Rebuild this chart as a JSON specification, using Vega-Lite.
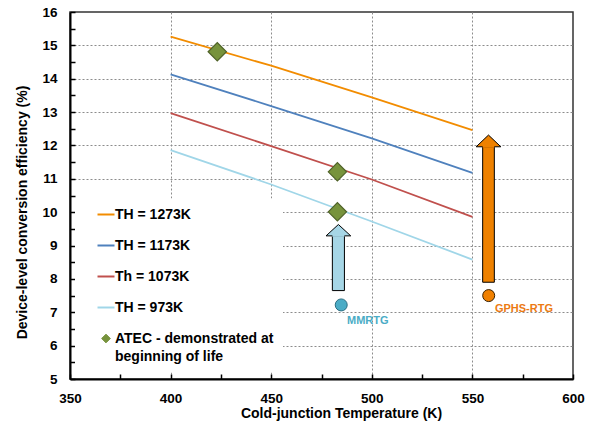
{
  "$schema": "https://vega.github.io/schema/vega-lite/v6.json",
  "width": 503,
  "height": 367,
  "padding": {"left": 15, "top": 5, "right": 3, "bottom": 4},
  "background": "white",
  "config": {
    "view": {"stroke": "#333333", "strokeWidth": 1.5},
    "font": "Liberation Sans",
    "axis": {
      "labelFont": "Liberation Sans",
      "labelFontWeight": "bold",
      "labelFontSize": 13.5,
      "labelColor": "black",
      "labelOverlap": false,
      "labelFlush": false,
      "titleFont": "Liberation Sans",
      "titleFontWeight": "bold",
      "titleFontSize": 14,
      "titleColor": "black",
      "domainColor": "black",
      "domainWidth": 2,
      "ticks": true,
      "tickColor": "black",
      "tickOpacity": 1,
      "tickWidth": 1.5,
      "tickSize": -5,
      "gridColor": "#8c8c8c",
      "gridDash": [2, 2],
      "gridWidth": 1
    }
  },
  "datasets": {
    "curves": [
      {"series": "TH = 1273K", "T": 400, "eff": 15.26},
      {"series": "TH = 1273K", "T": 450, "eff": 14.39},
      {"series": "TH = 1273K", "T": 500, "eff": 13.44},
      {"series": "TH = 1273K", "T": 550, "eff": 12.46},
      {"series": "TH = 1173K", "T": 400, "eff": 14.13},
      {"series": "TH = 1173K", "T": 450, "eff": 13.18},
      {"series": "TH = 1173K", "T": 500, "eff": 12.21},
      {"series": "TH = 1173K", "T": 550, "eff": 11.18},
      {"series": "Th = 1073K", "T": 400, "eff": 12.97},
      {"series": "Th = 1073K", "T": 450, "eff": 11.98},
      {"series": "Th = 1073K", "T": 500, "eff": 10.98},
      {"series": "Th = 1073K", "T": 550, "eff": 9.86},
      {"series": "TH = 973K", "T": 400, "eff": 11.86},
      {"series": "TH = 973K", "T": 450, "eff": 10.83},
      {"series": "TH = 973K", "T": 500, "eff": 9.72},
      {"series": "TH = 973K", "T": 550, "eff": 8.58}
    ],
    "atec": [
      {"series": "ATEC - demonstrated at beginning of life", "T": 423.2, "eff": 14.81},
      {"series": "ATEC - demonstrated at beginning of life", "T": 482.9, "eff": 11.21},
      {"series": "ATEC - demonstrated at beginning of life", "T": 482.9, "eff": 10.01}
    ],
    "arrows": [
      {"name": "MMRTG", "xl": 480.4, "xr": 486.4, "xc": 483.4, "ybase": 7.65, "yhead": 9.29},
      {"name": "GPHS-RTG", "xl": 555.1, "xr": 560.9, "xc": 558.0, "ybase": 7.9, "yhead": 11.96}
    ],
    "rtg": [
      {"name": "MMRTG", "T": 484.8, "eff": 7.22, "lx": 498.0, "ly": 6.73},
      {"name": "GPHS-RTG", "T": 558.1, "eff": 7.5, "lx": 575.6, "ly": 7.09}
    ]
  },
  "layer": [
    {
      "data": {"name": "curves"},
      "mark": {"type": "line", "strokeWidth": 1.8},
      "encoding": {
        "x": {
          "field": "T",
          "type": "quantitative",
          "scale": {"domain": [350, 600], "nice": false, "zero": false},
          "axis": {
            "title": "Cold-junction Temperature (K)",
            "values": [350, 375, 400, 425, 450, 475, 500, 525, 550, 575, 600],
            "tickCount": 40,
            "format": ".0f",
            "labelExpr": "datum.value % 50 === 0 ? datum.label : ''",
            "labelOverlap": false,
            "labelPadding": 17,
            "ticks": true,
            "tickSize": -5,
            "gridOpacity": {"condition": {"test": "datum.value % 50 !== 0 || datum.value === 350 || datum.value === 600", "value": 0}, "value": 1},
            "titleX": 271,
            "titleY": 34,
            "titleBaseline": "middle"
          }
        },
        "y": {
          "field": "eff",
          "type": "quantitative",
          "scale": {"domain": [5, 16], "nice": false, "zero": false},
          "axis": {
            "title": "Device-level conversion efficiency (%)",
            "values": [5, 5.5, 6, 6.5, 7, 7.5, 8, 8.5, 9, 9.5, 10, 10.5, 11, 11.5, 12, 12.5, 13, 13.5, 14, 14.5, 15, 15.5, 16],
            "tickCount": 40,
            "format": ".0f",
            "labelExpr": "datum.value % 1 === 0 ? datum.label : ''",
            "labelOverlap": false,
            "labelPadding": 18,
            "ticks": true,
            "tickSize": -5,
            "gridOpacity": {"condition": {"test": "datum.value % 1 !== 0 || datum.value === 5 || datum.value === 16", "value": 0}, "value": 1},
            "titleX": -48,
            "titleY": 200,
            "titleAngle": -90,
            "titleAlign": "center",
            "titleBaseline": "middle"
          }
        },
        "color": {
          "field": "series",
          "type": "nominal",
          "scale": {
            "domain": ["TH = 1273K", "TH = 1173K", "Th = 1073K", "TH = 973K", "ATEC - demonstrated at beginning of life"],
            "range": ["#F28C00", "#4F81BD", "#C0504D", "#A0D6E8", "#77933C"]
          },
          "legend": {
            "orient": "none",
            "legendX": 5,
            "legendY": 186.5,
            "title": null,
            "fillColor": "white",
            "padding": 9,
            "symbolOffset": 15,
            "symbolType": "stroke",
            "symbolSize": 289,
            "symbolStrokeWidth": 2,
            "labelFont": "Liberation Sans",
            "labelFontSize": 14,
            "labelFontWeight": "bold",
            "labelColor": "black",
            "labelOffset": 2,
            "labelLimit": 400,
            "rowPadding": 17,
            "labelExpr": "datum.label === 'ATEC - demonstrated at beginning of life' ? ['ATEC - demonstrated at', 'beginning of life'] : datum.label",
            "encode": {
              "symbols": {
                "update": {
                  "shape": {"signal": "datum.value === 'ATEC - demonstrated at beginning of life' ? 'diamond' : 'stroke'"},
                  "size": {"signal": "datum.value === 'ATEC - demonstrated at beginning of life' ? 76 : 289"},
                  "fill": {"signal": "datum.value === 'ATEC - demonstrated at beginning of life' ? '#77933C' : 'transparent'"},
                  "stroke": {"signal": "datum.value === 'ATEC - demonstrated at beginning of life' ? '#4F6228' : scale('color', datum.value)"},
                  "strokeWidth": {"signal": "datum.value === 'ATEC - demonstrated at beginning of life' ? 1 : 2"}
                }
              },
              "labels": {
                "update": {
                  "lineHeight": {"value": 18}
                }
              }
            }
          }
        }
      }
    },
    {
      "data": {"name": "atec"},
      "mark": {"type": "point", "shape": "diamond", "filled": true, "size": 335, "stroke": "#4F6228", "strokeWidth": 1.2, "opacity": 1},
      "encoding": {
        "x": {"field": "T", "type": "quantitative"},
        "y": {"field": "eff", "type": "quantitative"},
        "color": {"field": "series", "type": "nominal"}
      }
    },
    {
      "data": {"name": "arrows"},
      "transform": [{"filter": "datum.name === 'MMRTG'"}],
      "layer": [
        {
          "mark": {"type": "rect", "fill": "#A6D6E6", "stroke": "black", "strokeWidth": 1},
          "encoding": {
            "x": {"field": "xl", "type": "quantitative"},
            "x2": {"field": "xr"},
            "y": {"field": "ybase", "type": "quantitative"},
            "y2": {"field": "yhead"}
          }
        },
        {
          "mark": {"type": "point", "shape": "M-1,0L0,-0.92L1,0Z", "size": 610, "filled": true, "fill": "#A6D6E6", "stroke": "black", "strokeWidth": 1, "opacity": 1},
          "encoding": {
            "x": {"field": "xc", "type": "quantitative"},
            "y": {"field": "yhead", "type": "quantitative"}
          }
        },
        {
          "mark": {"type": "rule", "stroke": "#A6D6E6", "strokeWidth": 2},
          "encoding": {
            "x": {"field": "xl", "type": "quantitative"},
            "x2": {"field": "xr"},
            "y": {"field": "yhead", "type": "quantitative"}
          }
        }
      ]
    },
    {
      "data": {"name": "arrows"},
      "transform": [{"filter": "datum.name === 'GPHS-RTG'"}],
      "layer": [
        {
          "mark": {"type": "rect", "fill": "#EE8100", "stroke": "black", "strokeWidth": 1},
          "encoding": {
            "x": {"field": "xl", "type": "quantitative"},
            "x2": {"field": "xr"},
            "y": {"field": "ybase", "type": "quantitative"},
            "y2": {"field": "yhead"}
          }
        },
        {
          "mark": {"type": "point", "shape": "M-1,0L0,-0.95L1,0Z", "size": 610, "filled": true, "fill": "#EE8100", "stroke": "black", "strokeWidth": 1, "opacity": 1},
          "encoding": {
            "x": {"field": "xc", "type": "quantitative"},
            "y": {"field": "yhead", "type": "quantitative"}
          }
        },
        {
          "mark": {"type": "rule", "stroke": "#EE8100", "strokeWidth": 2},
          "encoding": {
            "x": {"field": "xl", "type": "quantitative"},
            "x2": {"field": "xr"},
            "y": {"field": "yhead", "type": "quantitative"}
          }
        }
      ]
    },
    {
      "data": {"name": "rtg"},
      "transform": [{"filter": "datum.name === 'MMRTG'"}],
      "layer": [
        {
          "mark": {"type": "point", "shape": "circle", "filled": true, "size": 144, "fill": "#4BACC6", "stroke": "#2C6E82", "strokeWidth": 1, "opacity": 1},
          "encoding": {
            "x": {"field": "T", "type": "quantitative"},
            "y": {"field": "eff", "type": "quantitative"}
          }
        },
        {
          "mark": {"type": "text", "fontSize": 11, "fontWeight": "bold", "font": "Liberation Sans", "fill": "#4BACC6", "align": "center", "baseline": "middle"},
          "encoding": {
            "x": {"field": "lx", "type": "quantitative"},
            "y": {"field": "ly", "type": "quantitative"},
            "text": {"field": "name"}
          }
        }
      ]
    },
    {
      "data": {"name": "rtg"},
      "transform": [{"filter": "datum.name === 'GPHS-RTG'"}],
      "layer": [
        {
          "mark": {"type": "point", "shape": "circle", "filled": true, "size": 144, "fill": "#F08000", "stroke": "#3a2000", "strokeWidth": 1, "opacity": 1},
          "encoding": {
            "x": {"field": "T", "type": "quantitative"},
            "y": {"field": "eff", "type": "quantitative"}
          }
        },
        {
          "mark": {"type": "text", "fontSize": 11, "fontWeight": "bold", "font": "Liberation Sans", "fill": "#EC7A12", "align": "center", "baseline": "middle"},
          "encoding": {
            "x": {"field": "lx", "type": "quantitative"},
            "y": {"field": "ly", "type": "quantitative"},
            "text": {"field": "name"}
          }
        }
      ]
    }
  ]
}
